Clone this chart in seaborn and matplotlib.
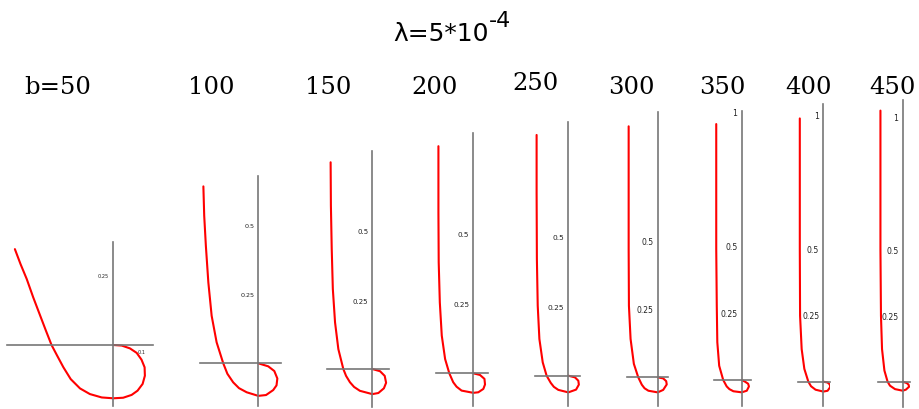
import matplotlib
matplotlib.use("Agg")
import matplotlib.pyplot as plt
import numpy as np
import pandas as pd
import seaborn as sns

# b values of the nine panels
b_values = [50, 100, 150, 200, 250, 300, 350, 400, 450]
b_labels = ["b=50", "100", "150", "200", "250", "300", "350", "400", "450"]

# curve points (start at origin, loop, then up to the free end)
x_b50 = [0, 0.030, 0.059, 0.083, 0.100, 0.111, 0.112, 0.104, 0.086, 0.065, 0.035, 0,
         -0.041, -0.083, -0.118, -0.151, -0.177, -0.199, -0.219, -0.239, -0.260, -0.284,
         -0.307, -0.329, -0.349]
y_b50 = [0, -0.002, -0.012, -0.028, -0.052, -0.079, -0.109, -0.138, -0.162, -0.177, -0.187,
         -0.189, -0.186, -0.174, -0.154, -0.121, -0.079, -0.038, 0, 0.051, 0.106, 0.169,
         0.234, 0.287, 0.340]

x_b100 = [0, 0.036, 0.058, 0.069, 0.066, 0.054, 0.028, 0, -0.042, -0.070, -0.091, -0.112,
          -0.127, -0.151, -0.169, -0.181, -0.190, -0.196, -0.199]
y_b100 = [0, -0.011, -0.028, -0.055, -0.080, -0.097, -0.115, -0.118, -0.105, -0.090, -0.069,
          -0.038, 0, 0.076, 0.172, 0.293, 0.426, 0.535, 0.641]

x_b150 = [0, 0.028, 0.045, 0.050, 0.042, 0.022, 0, -0.045, -0.066, -0.081, -0.095, -0.105,
          -0.123, -0.135, -0.143, -0.147, -0.150, -0.151]
y_b150 = [0, -0.008, -0.025, -0.050, -0.070, -0.087, -0.091, -0.079, -0.065, -0.048, -0.025,
          0, 0.072, 0.169, 0.290, 0.435, 0.592, 0.749]

x_b200 = [0, 0.024, 0.040, 0.042, 0.036, 0.018, 0, -0.042, -0.060, -0.072, -0.086, -0.101,
          -0.113, -0.120, -0.124, -0.125, -0.125]
y_b200 = [0, -0.006, -0.020, -0.040, -0.056, -0.068, -0.070, -0.062, -0.048, -0.032, 0,
          0.051, 0.135, 0.254, 0.398, 0.577, 0.814]

x_b250 = [0, 0.024, 0.036, 0.038, 0.028, 0, -0.036, -0.052, -0.063, -0.078, -0.092, -0.104,
          -0.110, -0.113, -0.114, -0.114]
y_b250 = [0, -0.006, -0.018, -0.032, -0.050, -0.060, -0.051, -0.040, -0.026, 0, 0.048, 0.132,
          0.252, 0.420, 0.660, 0.866]

x_b300 = [0, 0.020, 0.031, 0.033, 0.020, 0, -0.034, -0.048, -0.058, -0.071, -0.087, -0.099,
          -0.105, -0.106, -0.106, -0.106]
y_b300 = [0, -0.004, -0.014, -0.026, -0.046, -0.055, -0.049, -0.040, -0.027, 0, 0.049, 0.140,
          0.261, 0.468, 0.712, 0.916]

x_b350 = [0, 0.012, 0.024, 0.027, 0.019, 0, -0.031, -0.046, -0.056, -0.069, -0.084, -0.091,
          -0.093, -0.095, -0.095, -0.095]
y_b350 = [0, -0.006, -0.014, -0.024, -0.040, -0.046, -0.042, -0.034, -0.024, 0, 0.053, 0.141,
          0.277, 0.489, 0.738, 0.955]

x_b400 = [0, 0.016, 0.024, 0.026, 0.016, 0, -0.029, -0.046, -0.056, -0.071, -0.081, -0.087,
          -0.088, -0.088, -0.088]
y_b400 = [0, -0.003, -0.010, -0.020, -0.034, -0.037, -0.030, -0.017, 0, 0.048, 0.122, 0.247,
          0.497, 0.747, 0.986]

x_b450 = [0, 0.015, 0.022, 0.024, 0.012, 0, -0.029, -0.048, -0.057, -0.069, -0.078, -0.082,
          -0.084, -0.084, -0.084]
y_b450 = [0, -0.005, -0.011, -0.019, -0.030, -0.034, -0.028, -0.015, 0, 0.042, 0.123, 0.249,
          0.500, 0.752, 1.023]

curves_x = [x_b50, x_b100, x_b150, x_b200, x_b250, x_b300, x_b350, x_b400, x_b450]
curves_y = [y_b50, y_b100, y_b150, y_b200, y_b250, y_b300, y_b350, y_b400, y_b450]

# y tick values shown on each panel
yticks = [[0.25], [0.25, 0.5], [0.25, 0.5], [0.25, 0.5], [0.25, 0.5], [0.25, 0.5],
          [0.25, 0.5, 1], [0.25, 0.5, 1], [0.25, 0.5, 1]]

# layout: origin in pixels, pixels per unit, axis limits, tick font size
origins = [(113.3, 346), (258.3, 364.3), (372.3, 370), (473.3, 374.3), (568.3, 376.7),
           (657.7, 378.3), (741.7, 381), (823.3, 382.7), (902.7, 382.7)]
scales = [282, 276, 276, 279, 278, 274, 268, 267, 265]
xlims = [(-0.376, 0.140), (-0.211, 0.081), (-0.163, 0.062), (-0.134, 0.054), (-0.121, 0.042),
         (-0.111, 0.036), (-0.102, 0.035), (-0.096, 0.025), (-0.092, 0.028)]
ylims = [(-0.215, 0.366), (-0.156, 0.680), (-0.137, 0.791), (-0.116, 0.861), (-0.110, 0.914),
         (-0.106, 0.967), (-0.097, 1.005), (-0.090, 1.04), (-0.095, 1.063)]
tick_fs = [3.6, 4.6, 5.0, 5.2, 5.4, 5.5, 5.6, 5.6, 5.6]
label_x = [58, 211, 328, 435, 535, 631, 722, 809, 892]
label_y = [94, 94, 94, 94, 90, 94, 94, 94, 94]

W, H = 919, 410
sns.set_style("white")
plt.rcParams['font.family'] = ['DejaVu Sans']
plt.rcParams['text.color'] = 'black'

fig = plt.figure(figsize=(W / 100, H / 100), dpi=100)

axis_col = '#777777'
for i in range(len(b_values)):
    ox, oy = origins[i]
    s = scales[i]
    x0, x1 = xlims[i]
    y0, y1 = ylims[i]
    left = ox + x0 * s
    right = ox + x1 * s
    top = oy - y1 * s
    bottom = oy - y0 * s
    ax = fig.add_axes([left / W, 1 - bottom / H, (right - left) / W, (bottom - top) / H])
    df = pd.DataFrame({'x': curves_x[i], 'y': curves_y[i]})
    sns.lineplot(data=df, x='x', y='y', sort=False, estimator=None, color='#ff0000',
                 linewidth=1.5, ax=ax, solid_joinstyle='round')
    ax.set_xlim(x0, x1)
    ax.set_ylim(y0, y1)
    ax.set_facecolor('none')
    ax.spines['left'].set_position(('data', 0))
    ax.spines['bottom'].set_position(('data', 0))
    ax.spines['top'].set_visible(False)
    ax.spines['right'].set_visible(False)
    for side in ['left', 'bottom']:
        ax.spines[side].set_color(axis_col)
        ax.spines[side].set_linewidth(1.2)
    ax.set_yticks(yticks[i])
    ax.set_yticklabels([f'{v:g}' for v in yticks[i]])
    if i == 0:
        ax.set_xticks([0.1])
        ax.set_xticklabels(['0.1'])
    else:
        ax.set_xticks([])
    ax.tick_params(axis='both', direction='out', length=2, width=0.6, color=axis_col,
                   labelsize=tick_fs[i], pad=1, labelcolor='#222222')
    ax.set_xlabel('')
    ax.set_ylabel('')

    fig.text(label_x[i] / W, 1 - label_y[i] / H, b_labels[i], ha='center', va='baseline',
             fontsize=17.5, family='DejaVu Serif', color='black')

# title with superscript exponent
fig.text(393 / W, 1 - 41 / H, 'λ=5*10', ha='left', va='baseline', fontsize=18, color='black')
fig.text(489 / W, 1 - 27 / H, '-4', ha='left', va='baseline', fontsize=16, color='black')

fig.savefig('out.png', dpi=100)
